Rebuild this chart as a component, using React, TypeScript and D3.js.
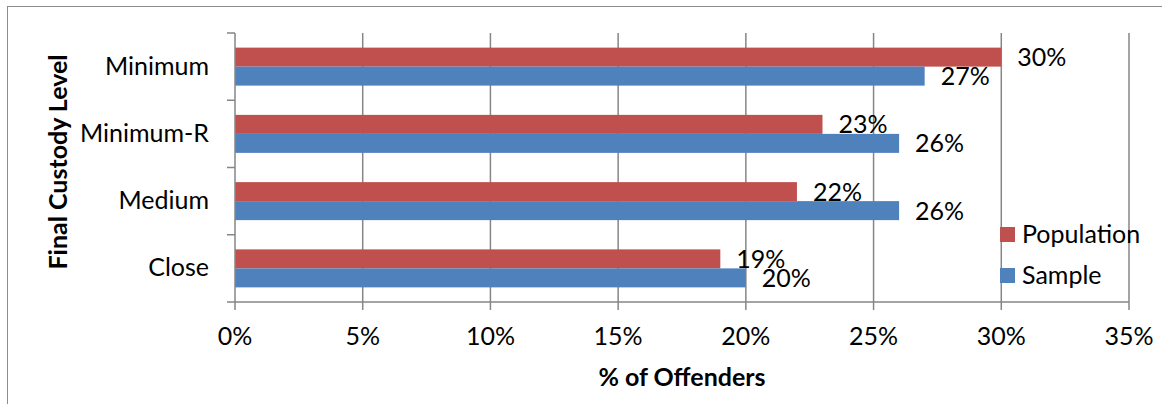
import React from "react";
import * as d3 from "d3";

const categories = ["Minimum", "Minimum-R", "Medium", "Close"];
const seriesNames = ["Population", "Sample"];
const populationValues = [30, 23, 22, 19];
const sampleValues = [27, 26, 26, 20];
const xTicks = [0, 5, 10, 15, 20, 25, 30, 35];
const colors = ["#C0504D", "#4F81BD"];

const W = 1162;
const H = 404;
const FONT = "Lato, 'Open Sans', sans-serif";
const FS = 25;
const DY = -2;

export default function App() {
  const left = 235, right = 1129, top = 33, bottom = 302;
  const x = d3.scaleLinear().domain([0, 35]).range([left, right]);
  const y = d3.scaleBand<string>().domain(categories).range([top, bottom]).padding(0);
  const groupH = y.step() * 0.565;
  const inner = d3.scaleBand<string>().domain(seriesNames).range([0, groupH]).padding(0);
  const seriesValues = [populationValues, sampleValues];
  const grid = "#868686";

  return (
    <svg width={W} height={H} style={{ position: "absolute", left: 0, top: 0 }}>
      <rect x={0} y={0} width={W} height={H} fill="#fff" />
      <rect x={7.5} y={6.5} width={W + 20} height={H + 20} fill="none" stroke="#8c8c8c" strokeWidth={1} />
      {xTicks.slice(1).map((t) => (
        <line key={"g" + t} x1={x(t)} x2={x(t)} y1={top} y2={bottom} stroke={grid} strokeWidth={1.5} />
      ))}
      {categories.map((c, i) => {
        const y0 = (y(c) as number) + (y.step() - groupH) / 2;
        return seriesNames.map((s, j) => {
          const v = seriesValues[j][i];
          const by = y0 + (inner(s) as number);
          return (
            <g key={c + s}>
              <rect x={x(0)} y={by} width={x(v) - x(0)} height={inner.bandwidth()} fill={colors[j]} />
              <text x={x(v) + 16} y={by + inner.bandwidth() / 2 + 1 + DY} dominantBaseline="central" fontFamily={FONT} fontSize={FS} fill="#000">
                {v + "%"}
              </text>
            </g>
          );
        });
      })}
      <line x1={left} x2={left} y1={top} y2={bottom} stroke={grid} strokeWidth={1.5} />
      <line x1={left} x2={right} y1={bottom} y2={bottom} stroke={grid} strokeWidth={1.5} />
      {[...categories.map((c) => y(c) as number), bottom].map((ty, i) => (
        <line key={"yt" + i} x1={left - 8} x2={left} y1={ty} y2={ty} stroke={grid} strokeWidth={1.5} />
      ))}
      {xTicks.map((t) => (
        <g key={"xt" + t}>
          <line x1={x(t)} x2={x(t)} y1={bottom} y2={bottom + 8} stroke={grid} strokeWidth={1.5} />
          <text x={x(t)} y={337 + DY} textAnchor="middle" dominantBaseline="central" fontFamily={FONT} fontSize={FS} fill="#000">
            {t + "%"}
          </text>
        </g>
      ))}
      {categories.map((c) => (
        <text key={"yl" + c} x={209} y={(y(c) as number) + y.step() / 2 + DY} textAnchor="end" dominantBaseline="central" fontFamily={FONT} fontSize={FS} fill="#000">
          {c}
        </text>
      ))}
      <text x={(left + right) / 2} y={378 + DY} textAnchor="middle" dominantBaseline="central" fontFamily={FONT} fontSize={FS} fontWeight="bold" fill="#000">
        % of Offenders
      </text>
      <text transform={`translate(57,${162}) rotate(-90)`} textAnchor="middle" dominantBaseline="central" fontFamily={FONT} fontSize={FS} fontWeight="bold" fill="#000">
        Final Custody Level
      </text>
      {seriesNames.map((s, j) => (
        <g key={"lg" + s} transform={`translate(1000,${227 + j * 41})`}>
          <rect x={0} y={0} width={15} height={15} fill={colors[j]} />
          <text x={22} y={7.5 + DY} dominantBaseline="central" fontFamily={FONT} fontSize={FS} fill="#000">
            {s}
          </text>
        </g>
      ))}
    </svg>
  );
}
